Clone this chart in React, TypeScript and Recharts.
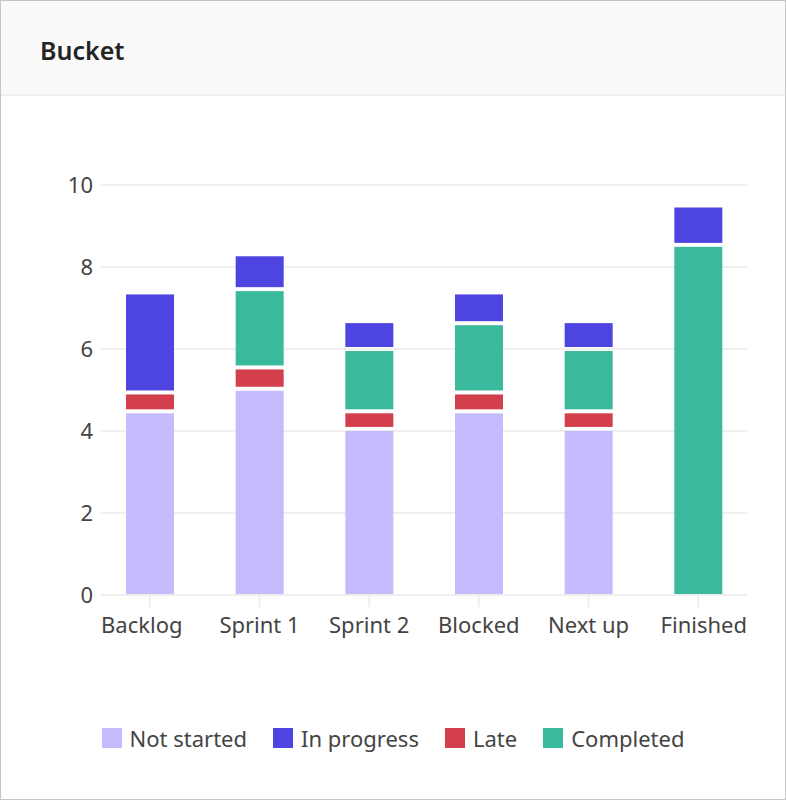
import React from 'react';
import { BarChart, Bar, XAxis, YAxis, CartesianGrid, Legend } from 'recharts';

const categories = ['Backlog', 'Sprint 1', 'Sprint 2', 'Blocked', 'Next up', 'Finished'];
const notStarted = [4.48, 5.03, 4.05, 4.48, 4.05, 0];
const late = [0.46, 0.52, 0.43, 0.46, 0.43, 0];
const completed = [0, 1.91, 1.52, 1.69, 1.52, 8.54];
const inProgress = [2.44, 0.85, 0.68, 0.75, 0.68, 0.96];
const yTicks = [0, 2, 4, 6, 8, 10];

const seriesOrder = [
  { key: 'notStarted', name: 'Not started', color: '#c5bcfd' },
  { key: 'late', name: 'Late', color: '#d33f4c' },
  { key: 'completed', name: 'Completed', color: '#3bb99d' },
  { key: 'inProgress', name: 'In progress', color: '#4e44df' },
];
const legendOrder = ['notStarted', 'inProgress', 'late', 'completed'];

const data = categories.map((c, i) => ({
  name: c,
  notStarted: notStarted[i],
  late: late[i],
  completed: completed[i],
  inProgress: inProgress[i],
}));

const FONT = '"Noto Sans", "Open Sans", sans-serif';
const GAP = 2;
const AXIS_PAD = -6;

const makeShape = (seriesIndex: number, color: string) => (props: any) => {
  const { x, y, width, height, payload } = props;
  if (!height || height <= 0.01) return null;
  let lower = 0;
  for (let k = 0; k < seriesIndex; k++) lower += payload[seriesOrder[k].key] || 0;
  const top = y + GAP;
  const bottom = lower > 0 ? y + height - GAP : y + height;
  const h = bottom - top;
  if (h <= 0) return null;
  return <rect x={x} y={top} width={width} height={h} fill={color} />;
};

const XTick = (props: any) => {
  const { x, y, payload, index, visibleTicksCount } = props;
  const half = payload && payload.offset ? payload.offset : 0;
  let anchor: 'start' | 'middle' | 'end' = 'middle';
  let tx = x;
  if (index === 0) {
    anchor = 'start';
    tx = x - half - AXIS_PAD;
  } else if (index === visibleTicksCount - 1) {
    anchor = 'end';
    tx = x + half + AXIS_PAD;
  }
  return (
    <text x={tx} y={y} dy="0.71em" textAnchor={anchor} fill="#444" fontSize={22} fontFamily={FONT}>
      {payload.value}
    </text>
  );
};

const LegendContent = () => (
  <div
    style={{
      display: 'flex',
      justifyContent: 'center',
      alignItems: 'center',
      height: 30,
      fontFamily: FONT,
      fontSize: 22,
      color: '#444',
    }}
  >
    {legendOrder.map((k, i) => {
      const s = seriesOrder.find((q) => q.key === k)!;
      return (
        <div key={k} style={{ display: 'flex', alignItems: 'center', marginRight: i < legendOrder.length - 1 ? 26 : 0 }}>
          <div style={{ width: 20, height: 20, background: s.color, marginRight: 8 }} />
          <span style={{ lineHeight: '30px', whiteSpace: 'nowrap' }}>{s.name}</span>
        </div>
      );
    })}
  </div>
);

export default function App() {
  return (
    <div
      style={{
        position: 'absolute',
        left: 0,
        top: 0,
        width: 786,
        height: 800,
        boxSizing: 'border-box',
        border: '1px solid #c6c6c6',
        background: '#fff',
        fontFamily: FONT,
        overflow: 'hidden',
      }}
    >
      <div
        style={{
          position: 'absolute',
          left: 0,
          top: 0,
          width: 784,
          height: 93,
          background: '#fafafa',
          borderBottom: '2px solid #eeeeee',
        }}
      >
        <div
          style={{
            position: 'absolute',
            left: 39,
            top: 32,
            fontSize: 25,
            fontWeight: 600,
            lineHeight: '34px',
            color: '#242424',
          }}
        >
          Bucket
        </div>
      </div>
      <div style={{ position: 'absolute', left: -1, top: -1 }}>
        <BarChart
          width={786}
          height={800}
          data={data}
          margin={{ top: 185, right: 39, left: 0, bottom: 47 }}
          barSize={48}
        >
          <CartesianGrid vertical={false} stroke="#efefef" strokeWidth={2} />
          <XAxis
            dataKey="name"
            height={128}
            padding={{ left: AXIS_PAD, right: AXIS_PAD }}
            axisLine={{ stroke: '#eeeeee', strokeWidth: 2 }}
            tickLine={{ stroke: '#eeeeee', strokeWidth: 2 }}
            tickSize={12}
            tickMargin={10}
            tick={<XTick />}
            interval={0}
          />
          <YAxis
            width={101}
            domain={[0, 10]}
            ticks={yTicks}
            axisLine={false}
            tickLine={false}
            tick={{ fill: '#444', fontSize: 22, fontFamily: FONT }}
          />
          <Legend
            verticalAlign="bottom"
            align="center"
            content={<LegendContent />}
            wrapperStyle={{ left: 0, width: 786, height: 30, bottom: 47 }}
          />
          {seriesOrder.map((s, i) => (
            <Bar
              key={s.key}
              dataKey={s.key}
              name={s.name}
              stackId="a"
              fill={s.color}
              isAnimationActive={false}
              shape={makeShape(i, s.color)}
            />
          ))}
        </BarChart>
      </div>
    </div>
  );
}
